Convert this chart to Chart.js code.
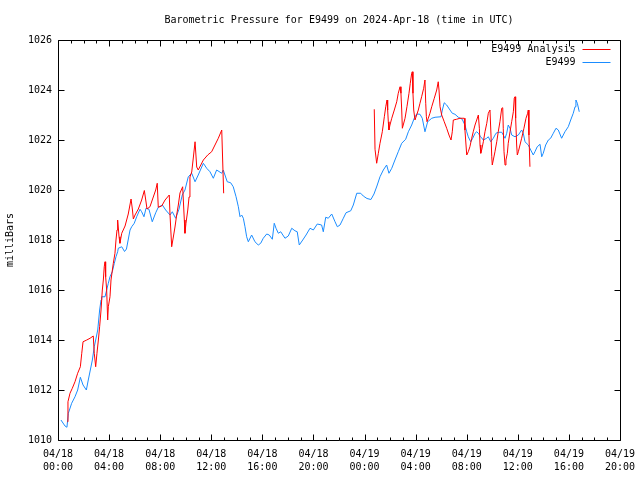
<!DOCTYPE html>
<html>
<head>
<meta charset="utf-8">
<script src="https://cdn.jsdelivr.net/npm/chart.js@4/dist/chart.umd.min.js"></script>
<style>
  body { margin: 0; background: #fff; }
  canvas { display: block; }
</style>
</head>
<body>
<canvas id="baro" width="640" height="480"></canvas>
<script>
// hours since 2024-04-18 00:00 UTC, pressure in mbar
const stationHours = [0.23,0.55,0.70,0.81,1.07,1.33,1.54,1.75,1.96,2.22,2.37,2.53,2.69,2.84,2.95,3.11,3.26,3.37,3.42,3.68,3.81,3.94,4.07,4.25,4.41,4.54,4.67,4.72,4.99,5.21,5.36,5.64,5.77,5.97,6.16,6.42,6.55,6.73,6.89,7.12,7.38,7.65,7.85,8.17,8.43,8.77,8.95,9.21,9.47,9.73,9.94,10.20,10.47,10.73,10.98,11.38,11.64,11.90,12.16,12.42,12.82,12.94,13.07,13.25,13.52,13.72,13.94,14.12,14.25,14.38,14.51,14.64,14.77,14.90,15.16,15.42,15.68,15.87,16.07,16.34,16.54,16.78,16.93,17.07,17.25,17.44,17.77,18.03,18.30,18.55,18.73,18.89,19.16,19.42,19.73,19.99,20.30,20.64,20.77,20.96,21.16,21.43,21.69,21.87,22.08,22.34,22.55,22.92,23.12,23.39,23.70,23.90,24.19,24.50,24.74,24.97,25.21,25.47,25.73,25.91,26.13,26.38,26.64,26.91,27.22,27.43,27.69,27.89,28.08,28.34,28.52,28.73,28.94,29.26,29.52,29.99,30.09,30.24,30.43,30.69,30.87,31.08,31.34,31.63,31.86,32.00,32.12,32.31,32.47,32.65,32.78,32.91,33.09,33.30,33.56,33.69,33.88,34.08,34.29,34.47,34.74,34.86,35.00,35.13,35.25,35.39,35.52,35.78,36.04,36.30,36.43,36.56,36.82,37.01,37.21,37.34,37.52,37.74,37.87,37.99,38.18,38.39,38.57,38.78,38.99,39.17,39.43,39.69,39.95,40.14,40.34,40.48,40.55,40.66,40.81];
const stationMb = [1010.80,1010.56,1010.51,1011.07,1011.47,1011.73,1012.00,1012.51,1012.20,1012.00,1012.40,1012.80,1013.20,1013.73,1014.00,1014.40,1015.20,1015.60,1015.73,1015.73,1016.00,1016.27,1016.53,1016.73,1017.07,1017.33,1017.53,1017.67,1017.73,1017.54,1017.64,1018.40,1018.53,1018.67,1018.93,1019.23,1019.13,1018.93,1019.27,1019.23,1018.73,1019.09,1019.31,1019.40,1019.20,1019.00,1019.13,1018.87,1019.23,1019.80,1020.00,1020.53,1020.67,1020.33,1020.60,1021.07,1020.87,1020.73,1020.47,1020.80,1020.67,1020.80,1020.60,1020.33,1020.29,1020.13,1019.73,1019.33,1018.93,1019.00,1018.87,1018.53,1018.13,1017.93,1018.20,1017.93,1017.80,1017.87,1018.07,1018.24,1018.20,1018.03,1018.67,1018.47,1018.27,1018.33,1018.07,1018.16,1018.47,1018.37,1018.33,1017.80,1018.00,1018.20,1018.47,1018.40,1018.64,1018.60,1018.33,1018.91,1018.87,1019.04,1018.73,1018.53,1018.60,1018.87,1019.09,1019.17,1019.40,1019.87,1019.87,1019.76,1019.66,1019.62,1019.84,1020.16,1020.53,1020.80,1021.00,1020.67,1020.87,1021.20,1021.53,1021.87,1022.03,1022.33,1022.60,1022.87,1023.04,1023.03,1022.87,1022.33,1022.73,1022.87,1022.91,1022.93,1023.20,1023.49,1023.40,1023.20,1023.07,1023.03,1022.91,1022.84,1022.60,1022.33,1022.13,1021.93,1022.07,1022.27,1022.33,1022.27,1022.13,1022.00,1022.07,1022.13,1021.93,1022.07,1022.27,1022.31,1022.31,1022.20,1022.07,1022.27,1022.60,1022.47,1022.20,1022.13,1022.20,1022.40,1022.27,1021.93,1021.80,1021.60,1021.40,1021.53,1021.73,1021.83,1021.33,1021.47,1021.80,1022.00,1022.07,1022.27,1022.47,1022.40,1022.07,1022.33,1022.53,1022.80,1023.07,1023.33,1023.60,1023.47,1023.13];

// analysis series, null marks the gap between the two runs
const analysisHours = [0.74,0.78,0.94,1.12,1.33,1.54,1.75,1.86,1.96,2.25,2.51,2.76,2.84,2.95,3.05,3.16,3.26,3.37,3.47,3.55,3.62,3.68,3.73,3.81,3.89,3.94,4.07,4.15,4.33,4.46,4.54,4.62,4.67,4.78,4.85,4.99,5.25,5.50,5.72,5.83,5.90,6.03,6.29,6.55,6.76,6.87,6.97,7.20,7.46,7.65,7.77,7.85,8.12,8.38,8.71,8.77,8.90,9.03,9.16,9.29,9.42,9.55,9.76,9.89,9.94,10.02,10.16,10.26,10.33,10.47,10.60,10.73,10.86,10.98,11.38,11.72,12.03,12.29,12.55,12.82,12.86,12.97,
  18.00,
  24.76,24.82,24.95,25.08,25.21,25.39,25.55,25.66,25.76,25.81,25.86,25.91,25.99,26.13,26.33,26.52,26.64,26.78,26.85,26.91,26.96,27.03,27.17,27.32,27.48,27.58,27.69,27.74,27.79,27.85,27.95,28.08,28.21,28.34,28.47,28.63,28.73,28.79,28.84,28.89,28.99,29.12,29.26,29.46,29.65,29.77,29.83,29.91,30.04,30.24,30.43,30.61,30.77,30.87,30.95,31.21,31.47,31.81,31.86,32.00,32.12,32.25,32.39,32.51,32.65,32.78,32.91,32.99,33.04,33.10,33.17,33.30,33.43,33.57,33.69,33.82,33.90,33.96,34.00,34.08,34.21,34.35,34.47,34.60,34.74,34.82,34.86,34.92,35.00,35.07,35.18,35.25,35.39,35.52,35.65,35.72,35.78,35.83,35.91,35.96,36.04,36.17,36.30,36.48,36.64,36.77,36.82,36.87,36.95];
const analysisMb = [1010.73,1011.53,1011.87,1012.07,1012.33,1012.67,1012.93,1013.47,1013.93,1014.00,1014.07,1014.16,1013.47,1012.93,1013.47,1014.00,1014.53,1015.20,1016.00,1016.40,1016.93,1017.13,1016.53,1016.00,1014.80,1015.33,1015.73,1016.40,1017.07,1017.47,1018.00,1018.40,1018.80,1018.13,1017.87,1018.27,1018.56,1019.04,1019.64,1019.20,1018.84,1019.00,1019.24,1019.60,1019.98,1019.60,1019.24,1019.33,1019.72,1020.00,1020.27,1019.31,1019.36,1019.60,1019.80,1019.00,1017.73,1018.12,1018.52,1019.00,1019.40,1019.88,1020.13,1018.80,1018.27,1018.67,1019.20,1019.72,1020.52,1020.72,1021.32,1021.93,1020.92,1020.80,1021.20,1021.40,1021.53,1021.80,1022.07,1022.40,1021.72,1019.87,
  null,
  1023.23,1021.63,1021.07,1021.47,1021.87,1022.33,1022.93,1023.33,1023.60,1023.20,1022.73,1022.40,1022.60,1022.87,1023.20,1023.53,1023.87,1024.13,1023.87,1023.20,1022.47,1022.60,1022.87,1023.33,1023.87,1024.27,1024.67,1024.73,1023.87,1023.20,1022.80,1023.00,1023.20,1023.47,1023.73,1024.07,1024.40,1023.47,1022.93,1022.73,1022.87,1023.07,1023.33,1023.67,1024.00,1024.33,1024.00,1023.33,1023.00,1022.73,1022.47,1022.20,1022.00,1022.33,1022.80,1022.83,1022.87,1022.87,1022.40,1021.40,1021.53,1021.73,1022.07,1022.33,1022.60,1022.80,1023.00,1022.47,1021.80,1021.47,1021.60,1021.93,1022.33,1022.67,1023.07,1023.20,1022.20,1021.33,1021.00,1021.20,1021.53,1021.93,1022.33,1022.73,1023.27,1023.29,1022.47,1021.53,1021.00,1021.20,1021.47,1021.87,1022.33,1022.73,1023.13,1023.67,1023.73,1022.87,1021.80,1021.40,1021.53,1021.80,1022.07,1022.47,1022.87,1023.07,1023.20,1022.20,1020.93];

const seriesNames = ["E9499 Analysis", "E9499"];
const seriesColors = ["#ff0000", "#1a8cff"];
const xTickHours = [0, 4, 8, 12, 16, 20, 24, 28, 32, 36, 40, 44];
const yTickValues = [1010, 1012, 1014, 1016, 1018, 1020, 1022, 1024, 1026];

const fontFam = "'DejaVu Sans Mono', 'Liberation Mono', monospace";

function pts(xs, ys) {
  return xs.map((h, i) => ({ x: h, y: ys[i] }));
}

function tickLabel(h) {
  const day = h < 24 ? "04/18" : "04/19";
  const hh = String(h % 24).padStart(2, "0");
  return [day, hh + ":00"];
}

// gnuplot style box, inward ticks on all sides and the key at top right
const gnuFrame = {
  id: "gnuFrame",
  afterDraw(chart) {
    const ctx = chart.ctx;
    const a = chart.chartArea;
    const xs = chart.scales.x, ys = chart.scales.y;
    const L = Math.round(a.left) + 0.5, R = Math.round(a.right) + 0.5;
    const T = Math.round(a.top) + 0.5, B = Math.round(a.bottom) + 0.5;
    ctx.save();
    ctx.strokeStyle = "#000";
    ctx.lineWidth = 1;
    ctx.beginPath();
    ctx.rect(L, T, R - L, B - T);
    for (let h = 0; h <= 44; h++) {
      const px = Math.round(xs.getPixelForValue(h)) + 0.5;
      const len = xTickHours.includes(h) ? 6 : 3;
      ctx.moveTo(px, B); ctx.lineTo(px, B - len);
      ctx.moveTo(px, T); ctx.lineTo(px, T + len);
    }
    yTickValues.forEach(v => {
      const py = Math.round(ys.getPixelForValue(v)) + 0.5;
      ctx.moveTo(L, py); ctx.lineTo(L + 6, py);
      ctx.moveTo(R, py); ctx.lineTo(R - 6, py);
    });
    ctx.stroke();

    ctx.font = "10px " + fontFam;
    ctx.fillStyle = "#000";
    ctx.textAlign = "right";
    ctx.textBaseline = "middle";
    chart.data.datasets.forEach((ds, i) => {
      const y = 49 + i * 13;
      ctx.fillText(ds.label, R - 45, y);
      ctx.strokeStyle = ds.borderColor;
      ctx.beginPath();
      ctx.moveTo(R - 38, y + 0.5);
      ctx.lineTo(R - 10, y + 0.5);
      ctx.stroke();
    });
    ctx.restore();
  }
};

new Chart(document.getElementById("baro"), {
  type: "line",
  data: {
    datasets: [
      {
        label: seriesNames[0],
        data: pts(analysisHours, analysisMb),
        borderColor: seriesColors[0],
        borderWidth: 1,
        pointRadius: 0,
        spanGaps: false,
        tension: 0
      },
      {
        label: seriesNames[1],
        data: pts(stationHours, stationMb),
        borderColor: seriesColors[1],
        borderWidth: 1,
        pointRadius: 0,
        tension: 0
      }
    ]
  },
  options: {
    responsive: false,
    animation: false,
    layout: { padding: { right: 20 } },
    plugins: {
      legend: { display: false },
      tooltip: { enabled: false },
      title: {
        display: true,
        fullSize: false,
        text: "Barometric Pressure for E9499 on 2024-Apr-18 (time in UTC)",
        color: "#000",
        font: { family: fontFam, size: 10, weight: "normal" },
        padding: { top: 14, bottom: 14 }
      }
    },
    scales: {
      x: {
        type: "linear",
        min: 0,
        max: 44,
        afterFit: s => { s.height = 40; s.paddingLeft = 0; s.paddingRight = 0; },
        grid: { display: false, drawTicks: false },
        border: { display: false },
        afterBuildTicks: s => { s.ticks = xTickHours.map(v => ({ value: v })); },
        ticks: {
          autoSkip: false,
          maxRotation: 0,
          padding: 8,
          color: "#000",
          font: { family: fontFam, size: 10, lineHeight: 1.3 },
          callback: v => tickLabel(v)
        }
      },
      y: {
        min: 1010,
        max: 1026,
        afterFit: s => { s.width = 58; },
        grid: { display: false, drawTicks: false },
        border: { display: false },
        afterBuildTicks: s => { s.ticks = yTickValues.map(v => ({ value: v })); },
        ticks: {
          padding: 6,
          color: "#000",
          font: { family: fontFam, size: 10 },
          callback: v => String(v)
        },
        title: {
          display: true,
          text: "milliBars",
          color: "#000",
          font: { family: fontFam, size: 10 },
          padding: { top: 4, bottom: 0 }
        }
      }
    }
  },
  plugins: [gnuFrame]
});
</script>
</body>
</html>
